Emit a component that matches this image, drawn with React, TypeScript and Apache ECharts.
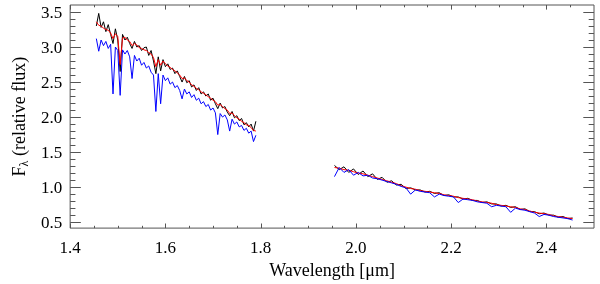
import React, { useEffect, useRef } from "react";
import * as echarts from "echarts";

// Segment 1 (H band) wavelengths in µm
const wl1 = [
  1.455, 1.46, 1.465, 1.47, 1.475, 1.48, 1.485, 1.49, 1.495, 1.5,
  1.505, 1.51, 1.515, 1.52, 1.525, 1.53, 1.535, 1.54, 1.545, 1.55,
  1.555, 1.56, 1.565, 1.57, 1.575, 1.58, 1.585, 1.59, 1.595, 1.6,
  1.605, 1.61, 1.615, 1.62, 1.625, 1.63, 1.635, 1.64, 1.645, 1.65,
  1.655, 1.66, 1.665, 1.67, 1.675, 1.68, 1.685, 1.69, 1.695, 1.7,
  1.705, 1.71, 1.715, 1.72, 1.725, 1.73, 1.735, 1.74, 1.745, 1.75,
  1.755, 1.76, 1.765, 1.77, 1.775, 1.78, 1.785, 1.79,
];
const black1 = [
  3.30, 3.48, 3.28, 3.36, 3.22, 3.32, 3.18, 3.05, 3.26, 3.10,
  2.65, 3.18, 3.10, 3.14, 3.05, 2.98, 3.08, 3.00, 3.02, 2.95,
  2.99, 3.00, 2.88, 2.95, 2.80, 2.62, 2.86, 2.66, 2.82, 2.72,
  2.76, 2.68, 2.70, 2.62, 2.66, 2.58, 2.50, 2.58, 2.49, 2.52,
  2.43, 2.46, 2.38, 2.42, 2.33, 2.36, 2.30, 2.33, 2.24, 2.27,
  2.19, 2.12, 2.20, 2.13, 2.15, 2.07, 2.02, 2.08, 1.99, 2.02,
  1.95, 1.98, 1.89, 1.92, 1.86, 1.90, 1.80, 1.94,
];
const red1 = [
  3.36, 3.31, 3.30, 3.27, 3.25, 3.24, 3.20, 3.12, 3.19, 3.15,
  2.75, 3.13, 3.14, 3.10, 3.08, 3.02, 3.05, 3.03, 2.99, 2.98,
  2.96, 2.95, 2.92, 2.90, 2.85, 2.72, 2.82, 2.74, 2.80, 2.76,
  2.73, 2.71, 2.68, 2.66, 2.63, 2.60, 2.55, 2.56, 2.52, 2.50,
  2.46, 2.44, 2.41, 2.39, 2.36, 2.34, 2.32, 2.29, 2.27, 2.24,
  2.22, 2.17, 2.18, 2.15, 2.12, 2.10, 2.05, 2.06, 2.02, 1.99,
  1.97, 1.94, 1.92, 1.89, 1.88, 1.85, 1.81, 1.80,
];
const blue1 = [
  3.12, 2.94, 3.10, 3.02, 3.08, 2.98, 3.04, 2.33, 3.00, 2.95,
  2.31, 2.96, 2.90, 2.95, 2.86, 2.55, 2.88, 2.80, 2.84, 2.74,
  2.78, 2.70, 2.73, 2.64, 2.60, 2.08, 2.62, 2.19, 2.60, 2.52,
  2.56, 2.47, 2.50, 2.42, 2.45, 2.38, 2.26, 2.40, 2.33, 2.36,
  2.28, 2.32, 2.24, 2.27, 2.19, 2.22, 2.15, 2.18, 2.10, 2.13,
  2.06, 1.75, 2.05, 2.00, 2.03, 1.96, 1.80, 1.97, 1.90, 1.93,
  1.86, 1.88, 1.81, 1.84, 1.77, 1.80, 1.65, 1.74,
];

// Segment 2 (K band) wavelengths in µm
const wl2 = [
  1.955, 1.965, 1.975, 1.985, 1.995, 2.005, 2.015, 2.025, 2.035, 2.045,
  2.055, 2.065, 2.075, 2.085, 2.095, 2.105, 2.115, 2.125, 2.135, 2.145,
  2.155, 2.165, 2.175, 2.185, 2.195, 2.205, 2.215, 2.225, 2.235, 2.245,
  2.255, 2.265, 2.275, 2.285, 2.295, 2.305, 2.315, 2.325, 2.335, 2.345,
  2.355, 2.365, 2.375, 2.385, 2.395, 2.405, 2.415, 2.425, 2.435, 2.445,
  2.455,
];
const black2 = [
  1.31, 1.25, 1.29, 1.21, 1.26, 1.18, 1.23, 1.15, 1.19, 1.11,
  1.14, 1.07, 1.09, 1.03, 1.04, 0.98, 0.99, 0.96, 0.96, 0.93,
  0.94, 0.91, 0.92, 0.88, 0.89, 0.86, 0.86, 0.83, 0.84, 0.81,
  0.81, 0.78, 0.79, 0.76, 0.76, 0.73, 0.74, 0.71, 0.72, 0.68,
  0.69, 0.65, 0.65, 0.62, 0.63, 0.60, 0.60, 0.57, 0.58, 0.55,
  0.56,
];
const red2 = [
  1.28, 1.27, 1.25, 1.24, 1.22, 1.20, 1.19, 1.17, 1.15, 1.13,
  1.11, 1.09, 1.07, 1.05, 1.02, 1.00, 0.98, 0.97, 0.95, 0.94,
  0.93, 0.92, 0.91, 0.89, 0.88, 0.87, 0.85, 0.84, 0.83, 0.82,
  0.80, 0.79, 0.78, 0.77, 0.75, 0.74, 0.73, 0.72, 0.71, 0.69,
  0.68, 0.66, 0.64, 0.63, 0.62, 0.61, 0.59, 0.58, 0.57, 0.56,
  0.55,
];
const blue2 = [
  1.15, 1.28, 1.21, 1.25, 1.17, 1.21, 1.16, 1.17, 1.13, 1.12,
  1.10, 1.08, 1.06, 1.04, 1.01, 0.99, 0.90, 0.96, 0.94, 0.93,
  0.92, 0.86, 0.90, 0.88, 0.87, 0.86, 0.78, 0.83, 0.82, 0.81,
  0.79, 0.78, 0.77, 0.72, 0.74, 0.73, 0.72, 0.64, 0.70, 0.68,
  0.67, 0.65, 0.63, 0.58, 0.61, 0.60, 0.58, 0.57, 0.56, 0.55,
  0.53,
];

// tick positions (labels come from the axis itself)
const xMajor = [1.4, 1.6, 1.8, 2.0, 2.2, 2.4];
const xMinor = [1.45, 1.5, 1.55, 1.65, 1.7, 1.75, 1.85, 1.9, 1.95, 2.05, 2.1, 2.15, 2.25, 2.3, 2.35, 2.45];
const yMajor = [0.5, 1.0, 1.5, 2.0, 2.5, 3.0, 3.5];
const yMinor = [
  0.6, 0.7, 0.8, 0.9, 1.1, 1.2, 1.3, 1.4, 1.6, 1.7, 1.8, 1.9, 2.1, 2.2, 2.3, 2.4,
  2.6, 2.7, 2.8, 2.9, 3.1, 3.2, 3.3, 3.4,
];

const X_MIN = 1.4;
const X_MAX = 2.5;
const Y_MIN = 0.415;
const Y_MAX = 3.6;

const FONT = "Liberation Serif";
const AXIS_COLOR = "#555";

function zip(xs: number[], ys: number[]) {
  return xs.map((x, i) => [x, ys[i]]);
}

export default function App() {
  const ref = useRef<HTMLDivElement>(null);
  useEffect(() => {
    if (!ref.current) return;
    const chart = echarts.init(ref.current, undefined, { renderer: "svg" });

    const mk = (x: number[], y: number[], color: string) => ({
      type: "line",
      data: zip(x, y),
      symbol: "none",
      lineStyle: { color, width: 1 },
      itemStyle: { color },
    });

    const xTickData = [
      ...xMajor.map((v) => [v, 2, 1]),
      ...xMinor.map((v) => [v, 2, 0]),
    ];
    const yTickData = [
      ...yMajor.map((v) => [1.9, v, 1]),
      ...yMinor.map((v) => [1.9, v, 0]),
    ];

    chart.setOption({
      animation: false,
      grid: {
        left: 59,
        right: 6,
        top: 5,
        bottom: 51,
        show: true,
        borderColor: AXIS_COLOR,
        borderWidth: 1,
      },
      xAxis: {
        type: "value",
        min: X_MIN,
        max: X_MAX,
        minInterval: 0.2,
        maxInterval: 0.2,
        splitLine: { show: false },
        axisLine: { show: false, onZero: false },
        axisTick: { show: false },
        axisLabel: {
          showMaxLabel: false,
          formatter: (v: number) => v.toFixed(1),
          fontFamily: FONT,
          fontSize: 17,
          color: "#000",
          margin: 11,
        },
        name: "Wavelength [μm]",
        nameLocation: "middle",
        nameGap: 28,
        nameTextStyle: { fontFamily: FONT, fontSize: 18, color: "#000" },
      },
      yAxis: {
        type: "value",
        min: Y_MIN,
        max: Y_MAX,
        minInterval: 0.5,
        maxInterval: 0.5,
        splitLine: { show: false },
        axisLine: { show: false, onZero: false },
        axisTick: { show: false },
        axisLabel: {
          showMinLabel: false,
          showMaxLabel: false,
          formatter: (v: number) => v.toFixed(1),
          fontFamily: FONT,
          fontSize: 17,
          color: "#000",
          margin: 8,
        },
        name: "{f|F}{s|λ}{n| (relative flux)}",
        nameLocation: "middle",
        nameGap: 36,
        nameRotate: 90,
        nameTextStyle: {
          fontFamily: FONT,
          fontSize: 18,
          color: "#000",
          rich: {
            f: { fontFamily: FONT, fontSize: 18, color: "#000", lineHeight: 22 },
            s: { fontFamily: FONT, fontSize: 12, color: "#000", lineHeight: 12, verticalAlign: "bottom", padding: [10, 0, 0, 0] },
            n: { fontFamily: FONT, fontSize: 18, color: "#000", lineHeight: 22 },
          },
        },
      },
      series: [
        mk(wl1, black1, "#000000"),
        mk(wl2, black2, "#000000"),
        mk(wl1, red1, "#ff0000"),
        mk(wl2, red2, "#ff0000"),
        mk(wl1, blue1, "#0000ff"),
        mk(wl2, blue2, "#0000ff"),
        {
          type: "custom",
          silent: true,
          clip: false,
          z: 5,
          data: xTickData,
          encode: { x: 0, y: 1 },
          renderItem: (params: any, api: any) => {
            const cs = params.coordSys;
            const major = api.value(2) === 1;
            const len = major ? 4.6 : 2.3;
            const px = Math.round(api.coord([api.value(0), 2])[0]) + 0.5;
            const bottom = cs.y + cs.height;
            return {
              type: "group",
              children: [
                { type: "line", shape: { x1: px, y1: bottom, x2: px, y2: bottom - len }, style: { stroke: AXIS_COLOR, lineWidth: 1 } },
                { type: "line", shape: { x1: px, y1: cs.y, x2: px, y2: cs.y + len }, style: { stroke: AXIS_COLOR, lineWidth: 1 } },
              ],
            };
          },
        },
        {
          type: "custom",
          silent: true,
          clip: false,
          z: 5,
          data: yTickData,
          encode: { x: 0, y: 1 },
          renderItem: (params: any, api: any) => {
            const cs = params.coordSys;
            const major = api.value(2) === 1;
            const len = major ? 10.7 : 5.3;
            const py = Math.round(api.coord([1.9, api.value(1)])[1]) + 0.5;
            const right = cs.x + cs.width;
            return {
              type: "group",
              children: [
                { type: "line", shape: { x1: cs.x, y1: py, x2: cs.x + len, y2: py }, style: { stroke: AXIS_COLOR, lineWidth: 1 } },
                { type: "line", shape: { x1: right, y1: py, x2: right - len, y2: py }, style: { stroke: AXIS_COLOR, lineWidth: 1 } },
              ],
            };
          },
        },
      ],
    });
    return () => chart.dispose();
  }, []);
  return <div ref={ref} style={{ position: "fixed", left: 0, top: 0, width: 600, height: 284 }} />;
}
